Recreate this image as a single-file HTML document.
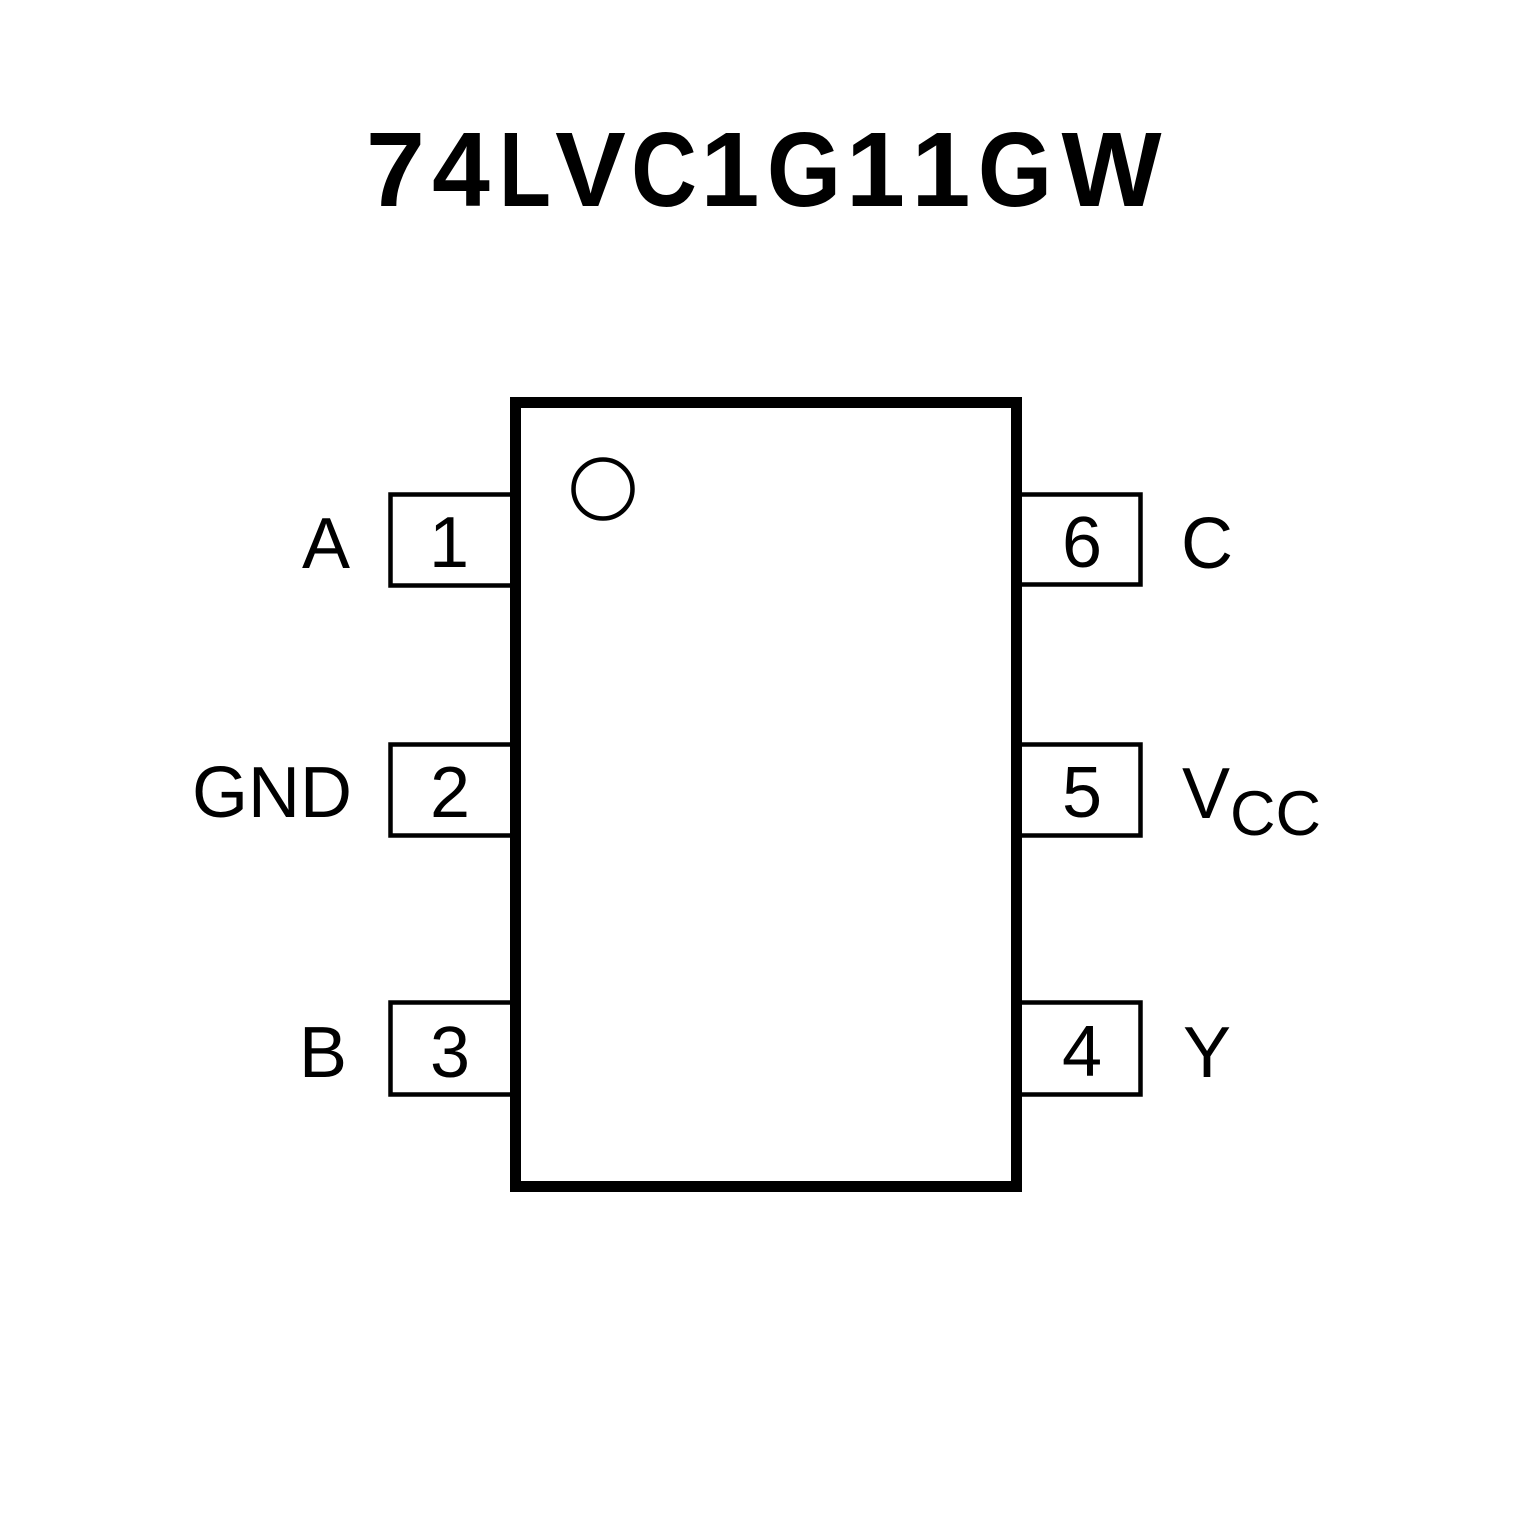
<!DOCTYPE html>
<html>
<head>
<meta charset="utf-8">
<style>
  html, body { margin: 0; padding: 0; background: #fff; }
  svg { display: block; }
  text { font-family: "Liberation Sans", Arial, sans-serif; fill: #000; }
</style>
</head>
<body>
<svg width="1535" height="1535" viewBox="0 0 1535 1535" xmlns="http://www.w3.org/2000/svg">
  <rect x="0" y="0" width="1535" height="1535" fill="#fff"/>

  <!-- Title (per-glyph placement) -->
  <g font-size="106" font-weight="bold" text-anchor="middle">
    <text transform="translate(395.5,206)">7</text>
    <text transform="translate(461,206) scale(0.98,1)">4</text>
    <text transform="translate(525,206) scale(0.8,1)">L</text>
    <text transform="translate(590.5,206)">V</text>
    <text transform="translate(664,206) scale(0.86,1)">C</text>
    <text transform="translate(730,206)">1</text>
    <text transform="translate(804,206) scale(0.9,1)">G</text>
    <text transform="translate(875.5,206)">1</text>
    <text transform="translate(941,206)">1</text>
    <text transform="translate(1015,206) scale(0.9,1)">G</text>
    <text transform="translate(1111.5,206)">W</text>
  </g>

  <!-- Pin boxes left -->
  <g fill="none" stroke="#000" stroke-width="4.5">
    <polyline points="514,494.5 390.5,494.5 390.5,585.5 514,585.5"/>
    <polyline points="514,744.5 390.5,744.5 390.5,835.5 514,835.5"/>
    <polyline points="514,1002.5 390.5,1002.5 390.5,1094.5 514,1094.5"/>
    <!-- right -->
    <polyline points="1018,494.5 1140.5,494.5 1140.5,584.5 1018,584.5"/>
    <polyline points="1018,744.5 1140.5,744.5 1140.5,835.5 1018,835.5"/>
    <polyline points="1018,1002.5 1140.5,1002.5 1140.5,1094.5 1018,1094.5"/>
    <!-- pin-1 marker -->
    <circle cx="603" cy="489" r="29.5"/>
  </g>

  <!-- Body -->
  <rect x="515.5" y="402.5" width="501" height="784" fill="none" stroke="#000" stroke-width="11"/>

  <!-- Pin numbers -->
  <g font-size="72" text-anchor="middle">
    <text x="449" y="567">1</text>
    <text x="450" y="817">2</text>
    <text x="450" y="1077">3</text>
    <text x="1082" y="567">6</text>
    <text x="1082" y="817">5</text>
    <text x="1082" y="1076">4</text>
  </g>

  <!-- Left labels -->
  <g font-size="72">
    <text x="302" y="568">A</text>
    <text x="192" y="817">GND</text>
    <text x="299" y="1077">B</text>
  </g>

  <!-- Right labels -->
  <g font-size="72">
    <text x="1181" y="568">C</text>
    <text x="1182" y="818">V</text>
    <text x="1183" y="1077">Y</text>
  </g>
  <text x="1230" y="835" font-size="63">CC</text>
</svg>
</body>
</html>
